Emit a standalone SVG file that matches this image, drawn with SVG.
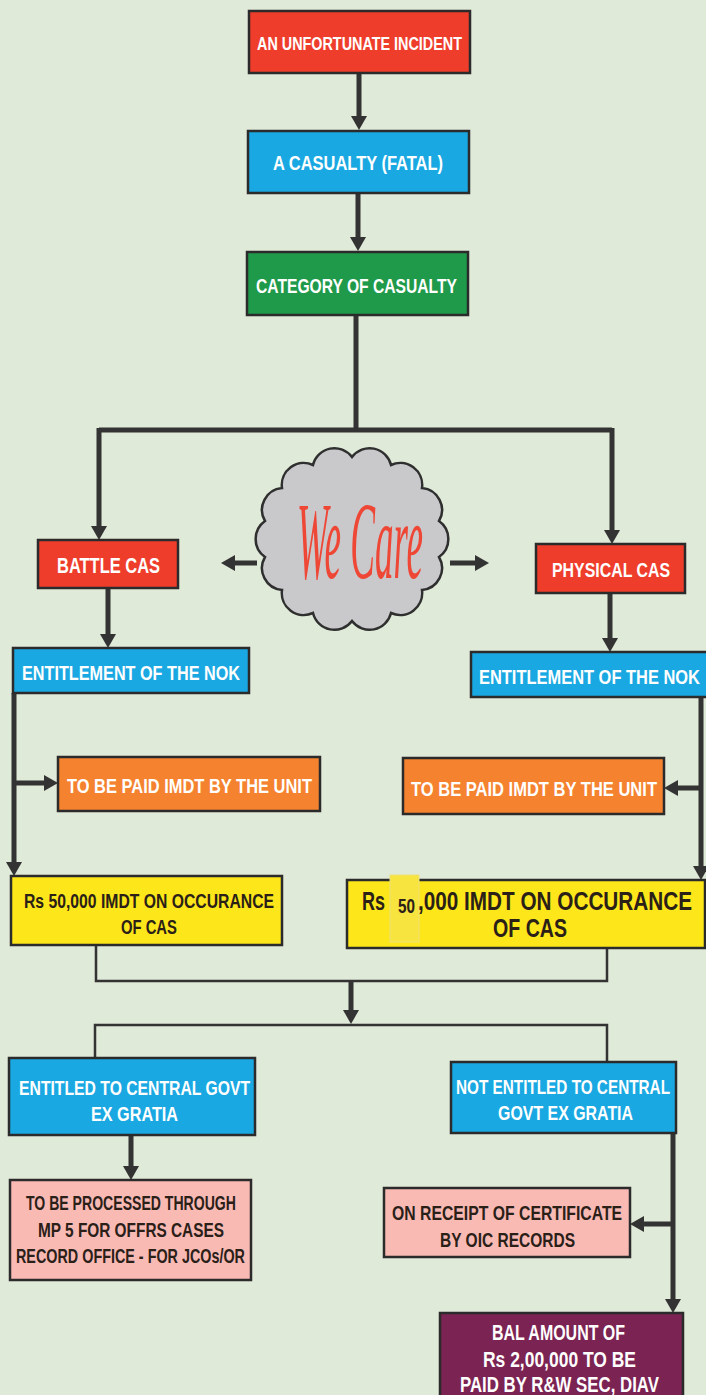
<svg xmlns="http://www.w3.org/2000/svg" width="706" height="1395" viewBox="0 0 706 1395">
<style>
.box{stroke:#2b2b2b;stroke-width:2.5}
.red{fill:#ef3d2c}.blue{fill:#1aa8e2}.green{fill:#1f9a4b}.orange{fill:#f5822f}
.yellow{fill:#fde71a}.pink{fill:#f9bab4}.purple{fill:#7b2352}
.t{font-family:"Liberation Sans","DejaVu Sans",Arial,sans-serif;font-weight:bold}
.w{fill:#ffffff}.d{fill:#2a2018}
.thick{stroke:#333333;stroke-width:5;fill:none}
.thin{stroke:#333333;stroke-width:2.5;fill:none}
.arr{marker-end:url(#ah)}
</style>
<defs>
<marker id="ah" markerUnits="userSpaceOnUse" markerWidth="16" markerHeight="18" refX="4" refY="8" orient="auto">
<path d="M0,0 L14,8 L0,16 z" fill="#333333"/>
</marker>
</defs>
<rect x="0" y="0" width="706" height="1395" fill="#e0ead8"/>

<g id="connectors">
<line class="thick arr" x1="359" y1="73" x2="359" y2="120"/>
<line class="thick arr" x1="358" y1="193" x2="358" y2="241"/>
<polyline class="thick" points="356,315 356,430"/>
<polyline class="thick" points="99,430 612,430"/>
<line class="thick arr" x1="99" y1="428" x2="99" y2="530"/>
<line class="thick arr" x1="612" y1="428" x2="612" y2="534"/>
<line class="thick arr" x1="257" y1="563" x2="231" y2="563"/>
<line class="thick arr" x1="450" y1="563" x2="479" y2="563"/>
<line class="thick arr" x1="108" y1="589" x2="108" y2="638"/>
<line class="thick arr" x1="610" y1="593" x2="610" y2="642"/>
<line class="thick arr" x1="14" y1="693" x2="14" y2="866"/>
<line class="thick arr" x1="14" y1="783" x2="48" y2="783"/>
<line class="thick arr" x1="701" y1="697" x2="701" y2="870"/>
<line class="thick arr" x1="701" y1="788" x2="674" y2="788"/>
<polyline class="thin" points="96,945 96,981 607,981 607,948"/>
<line class="thick arr" x1="351" y1="981" x2="351" y2="1014"/>
<polyline class="thin" points="95,1058 95,1025 607,1025 607,1062"/>
<line class="thick arr" x1="131" y1="1135" x2="131" y2="1170"/>
<line class="thick arr" x1="673" y1="1133" x2="673" y2="1303"/>
<line class="thick arr" x1="673" y1="1224" x2="640" y2="1224"/>
</g>

<g id="incident">
<rect class="box red" x="249" y="11" width="221" height="62"/>
<text class="t w" transform="scale(0.78,1)" x="329.5" y="50" font-size="19" textLength="262.8" lengthAdjust="spacingAndGlyphs">AN UNFORTUNATE INCIDENT</text>
</g>
<g id="casualty">
<rect class="box blue" x="248" y="131" width="221" height="62"/>
<text class="t w" transform="scale(0.78,1)" x="350" y="170" font-size="20" textLength="217.9" lengthAdjust="spacingAndGlyphs">A  CASUALTY (FATAL)</text>
</g>
<g id="category">
<rect class="box green" x="247" y="252" width="221" height="63"/>
<text class="t w" transform="scale(0.78,1)" x="328.2" y="293" font-size="21" textLength="257.7" lengthAdjust="spacingAndGlyphs">CATEGORY OF CASUALTY</text>
</g>

<g id="wecare">
<path d="M352,457 A22,22 0 0 1 391,465 A22,22 0 0 1 422,488 A22,22 0 0 1 439,521 A22,22 0 0 1 439,557 A22,22 0 0 1 422,590 A22,22 0 0 1 391,613 A22,22 0 0 1 352,621 A22,22 0 0 1 313,613 A22,22 0 0 1 282,590 A22,22 0 0 1 265,557 A22,22 0 0 1 265,521 A22,22 0 0 1 282,488 A22,22 0 0 1 313,465 A22,22 0 0 1 352,457 Z" fill="#c9c9cc" stroke="#2f2f2f" stroke-width="2.5"/>
<text transform="translate(297,578) scale(0.33,1)" x="0" y="0" font-family="'Liberation Serif',serif" font-style="italic" font-size="110" fill="#ef4736" textLength="382" lengthAdjust="spacingAndGlyphs">We Care</text>
</g>

<g id="battle">
<rect class="box red" x="38" y="540" width="140" height="48"/>
<text class="t w" transform="scale(0.78,1)" x="73.1" y="573" font-size="22" textLength="132.1" lengthAdjust="spacingAndGlyphs">BATTLE  CAS</text>
</g>
<g id="physical">
<rect class="box red" x="536" y="544" width="149" height="49"/>
<text class="t w" transform="scale(0.78,1)" x="707.7" y="577" font-size="21" textLength="151.3" lengthAdjust="spacingAndGlyphs">PHYSICAL CAS</text>
</g>

<g id="nok-left">
<rect class="box blue" x="13" y="648" width="236" height="45"/>
<text class="t w" transform="scale(0.78,1)" x="28.2" y="680" font-size="21" textLength="279.5" lengthAdjust="spacingAndGlyphs">ENTITLEMENT OF THE  NOK</text>
</g>
<g id="nok-right">
<rect class="box blue" x="471" y="652" width="240" height="45"/>
<text class="t w" transform="scale(0.78,1)" x="614.1" y="684" font-size="21" textLength="283.3" lengthAdjust="spacingAndGlyphs">ENTITLEMENT OF THE  NOK</text>
</g>

<g id="unit-left">
<rect class="box orange" x="58" y="757" width="262" height="54"/>
<text class="t w" transform="scale(0.78,1)" x="85.9" y="793" font-size="21" textLength="314.1" lengthAdjust="spacingAndGlyphs">TO BE PAID IMDT BY THE UNIT</text>
</g>
<g id="unit-right">
<rect class="box orange" x="403" y="758" width="261" height="56"/>
<text class="t w" transform="scale(0.78,1)" x="526.9" y="796" font-size="21" textLength="315.4" lengthAdjust="spacingAndGlyphs">TO BE PAID IMDT BY THE UNIT</text>
</g>

<g id="imdt-left">
<rect class="box yellow" x="11" y="876" width="271" height="69"/>
<text class="t d" transform="scale(0.78,1)" x="30.8" y="908" font-size="21" textLength="320.5" lengthAdjust="spacingAndGlyphs">Rs 50,000 IMDT ON OCCURANCE</text>
<text class="t d" transform="scale(0.78,1)" x="155.1" y="934" font-size="21" textLength="71.8" lengthAdjust="spacingAndGlyphs">OF CAS</text>
</g>
<g id="imdt-right">
<rect class="box yellow" x="347" y="880" width="358" height="68"/>
<rect x="390" y="875" width="29" height="67" fill="#f7e43e" stroke="#ece07a" stroke-width="1"/>
<text class="t d" transform="scale(0.78,1)" x="464.1" y="910" font-size="25" textLength="29.5" lengthAdjust="spacingAndGlyphs">Rs</text>
<text class="t d" transform="scale(0.78,1)" x="510.3" y="913" font-size="20" textLength="21.8" lengthAdjust="spacingAndGlyphs">50</text>
<text class="t d" transform="scale(0.78,1)" x="535.9" y="910" font-size="25" textLength="351.3" lengthAdjust="spacingAndGlyphs">,000 IMDT ON OCCURANCE</text>
<text class="t d" transform="scale(0.78,1)" x="632.1" y="937" font-size="25" textLength="94.9" lengthAdjust="spacingAndGlyphs">OF CAS</text>
</g>

<g id="entitled">
<rect class="box blue" x="9" y="1058" width="246" height="77"/>
<text class="t w" transform="scale(0.78,1)" x="24.4" y="1095" font-size="21" textLength="296.2" lengthAdjust="spacingAndGlyphs">ENTITLED TO CENTRAL GOVT</text>
<text class="t w" transform="scale(0.78,1)" x="116.7" y="1121" font-size="21" textLength="111.5" lengthAdjust="spacingAndGlyphs">EX GRATIA</text>
</g>
<g id="not-entitled">
<rect class="box blue" x="451" y="1062" width="225" height="71"/>
<text class="t w" transform="scale(0.78,1)" x="584.6" y="1094" font-size="21" textLength="274.4" lengthAdjust="spacingAndGlyphs">NOT ENTITLED TO CENTRAL</text>
<text class="t w" transform="scale(0.78,1)" x="638.5" y="1120" font-size="21" textLength="173.1" lengthAdjust="spacingAndGlyphs">GOVT  EX GRATIA</text>
</g>

<g id="processed">
<rect class="box pink" x="10" y="1180" width="241" height="100"/>
<text class="t d" transform="scale(0.78,1)" x="33.3" y="1210" font-size="21" textLength="269.2" lengthAdjust="spacingAndGlyphs">TO BE PROCESSED THROUGH</text>
<text class="t d" transform="scale(0.78,1)" x="48.7" y="1237" font-size="21" textLength="238.5" lengthAdjust="spacingAndGlyphs">MP 5  FOR OFFRS  CASES</text>
<text class="t d" transform="scale(0.78,1)" x="20.5" y="1263" font-size="21" textLength="293.6" lengthAdjust="spacingAndGlyphs">RECORD OFFICE - FOR JCOs/OR</text>
</g>
<g id="certificate">
<rect class="box pink" x="384" y="1188" width="246" height="69"/>
<text class="t d" transform="scale(0.78,1)" x="502.6" y="1220" font-size="21" textLength="294.9" lengthAdjust="spacingAndGlyphs">ON RECEIPT OF CERTIFICATE</text>
<text class="t d" transform="scale(0.78,1)" x="564.1" y="1247" font-size="21" textLength="173.1" lengthAdjust="spacingAndGlyphs">BY OIC RECORDS</text>
</g>
<g id="balance">
<rect class="box purple" x="440" y="1313" width="243" height="90"/>
<text class="t w" transform="scale(0.78,1)" x="630.8" y="1340" font-size="22" textLength="170.5" lengthAdjust="spacingAndGlyphs">BAL AMOUNT OF</text>
<text class="t w" transform="scale(0.78,1)" x="619.2" y="1367" font-size="22" textLength="196.2" lengthAdjust="spacingAndGlyphs">Rs 2,00,000 TO BE</text>
<text class="t w" transform="scale(0.78,1)" x="589.7" y="1392" font-size="22" textLength="255.1" lengthAdjust="spacingAndGlyphs">PAID BY R&amp;W SEC, DIAV</text>
</g>
</svg>
